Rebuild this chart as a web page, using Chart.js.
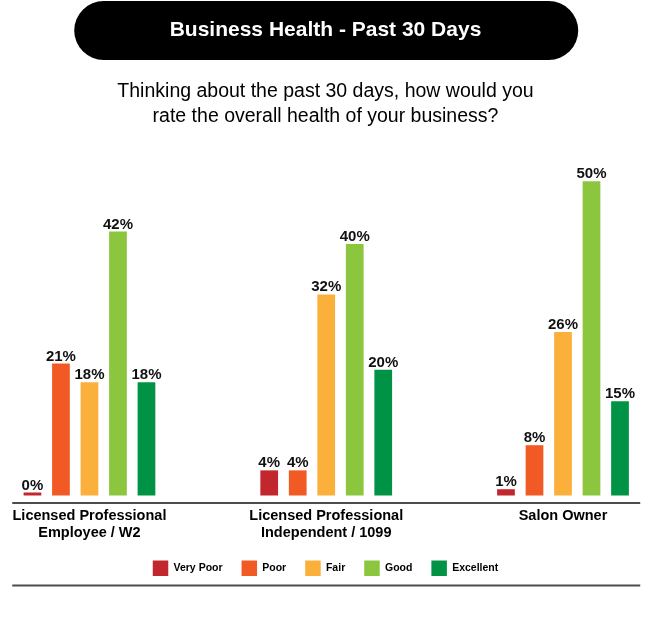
<!DOCTYPE html>
<html>
<head>
<meta charset="utf-8">
<script src="https://cdn.jsdelivr.net/npm/chart.js@4.4.1/dist/chart.umd.min.js"></script>
<style>
html,body{margin:0;padding:0;background:#fff;}
#wrap{width:650px;height:617px;position:relative;}
</style>
</head>
<body>
<div id="wrap"><canvas id="c" width="650" height="617"></canvas></div>
<script>
// ---- data ----
const categories = [
  ['Licensed Professional', 'Employee / W2'],
  ['Licensed Professional', 'Independent / 1099'],
  ['Salon Owner']
];
const seriesNames = ['Very Poor', 'Poor', 'Fair', 'Good', 'Excellent'];
const veryPoor  = [0, 4, 1];
const poor      = [21, 4, 8];
const fair      = [18, 32, 26];
const good      = [42, 40, 50];
const excellent = [18, 20, 15];
const seriesColors = ['#C1272D', '#F15A24', '#FBB03B', '#8CC63F', '#009245'];
const titleText = 'Business Health - Past 30 Days';
const subtitleLines = ['Thinking about the past 30 days, how would you', 'rate the overall health of your business?'];
const yMax = 55;

const FONT = 'Liberation Sans';
const seriesValues = [veryPoor, poor, fair, good, excellent];

// title pill behind the title
const pillPlugin = {
  id: 'pill',
  beforeDraw(chart) {
    const tb = chart.titleBlock;
    if (!tb) return;
    const ctx = chart.ctx;
    const cx = (chart.chartArea.left + chart.chartArea.right) / 2;
    const w = 504, h = tb.bottom - tb.top - 1;
    ctx.save();
    ctx.fillStyle = '#000';
    ctx.beginPath();
    ctx.roundRect(cx - w / 2, tb.top + 1, w, h, h / 2);
    ctx.fill();
    ctx.restore();
  }
};

// horizontal rules (axis line + bottom rule)
const rulesPlugin = {
  id: 'rules',
  afterDraw(chart) {
    const ctx = chart.ctx;
    const a = chart.chartArea;
    const cx = (a.left + a.right) / 2;
    const half = 314;
    ctx.save();
    ctx.strokeStyle = '#4d4d4d';
    ctx.lineWidth = 2;
    const ys = [a.bottom + 7.4, chart.legend.bottom - 0.5];
    ys.forEach(y => {
      ctx.beginPath();
      ctx.moveTo(cx - half, y);
      ctx.lineTo(cx + half, y);
      ctx.stroke();
    });
    ctx.restore();
  }
};

// value labels above bars
const valueLabels = {
  id: 'valueLabels',
  afterDatasetsDraw(chart) {
    const ctx = chart.ctx;
    ctx.save();
    ctx.fillStyle = '#111';
    ctx.font = 'bold 15px "' + FONT + '"';
    ctx.textAlign = 'center';
    ctx.textBaseline = 'alphabetic';
    chart.data.datasets.forEach((ds, di) => {
      const meta = chart.getDatasetMeta(di);
      meta.data.forEach((bar, i) => {
        const top = Math.min(bar.y, bar.base);
        ctx.fillText(ds.data[i] + '%', bar.x, top - 3);
      });
    });
    ctx.restore();
  }
};

const datasets = seriesNames.map((name, k) => ({
  label: name,
  data: seriesValues[k],
  backgroundColor: seriesColors[k],
  borderWidth: 0,
  categoryPercentage: 0.602,
  barPercentage: 0.622,
  minBarLength: 3,
  clip: false
}));

new Chart(document.getElementById('c'), {
  type: 'bar',
  data: { labels: categories, datasets },
  options: {
    responsive: false,
    animation: false,
    events: [],
    layout: { padding: { top: 0, left: 88, right: 87, bottom: 31 } },
    plugins: {
      title: {
        display: true,
        text: titleText,
        color: '#fff',
        font: { family: FONT, size: 21, weight: 'bold', lineHeight: 1.2 },
        padding: { top: 17.4, bottom: 17.4 }
      },
      subtitle: {
        display: true,
        text: subtitleLines,
        color: '#000',
        font: { family: FONT, size: 19.5, weight: 'normal', lineHeight: 1.31 },
        padding: { top: 18.75, bottom: 20 }
      },
      legend: {
        position: 'bottom',
        labels: {
          boxWidth: 15.5,
          boxHeight: 15.5,
          padding: 19,
          color: '#000',
          font: { family: FONT, size: 10.5, weight: 'bold' }
        }
      },
      tooltip: { enabled: false }
    },
    scales: {
      x: {
        offset: false,
        grid: { display: false, drawTicks: false },
        border: { display: false },
        afterFit(scale) { scale.height = 46; },
        ticks: {
          padding: 12.5,
          color: '#000',
          autoSkip: false,
          maxRotation: 0,
          minRotation: 0,
          font: { family: FONT, size: 14.5, weight: 'bold', lineHeight: 1.15 }
        }
      },
      y: { display: false, min: 0, max: yMax }
    }
  },
  plugins: [pillPlugin, rulesPlugin, valueLabels]
});
</script>
</body>
</html>
